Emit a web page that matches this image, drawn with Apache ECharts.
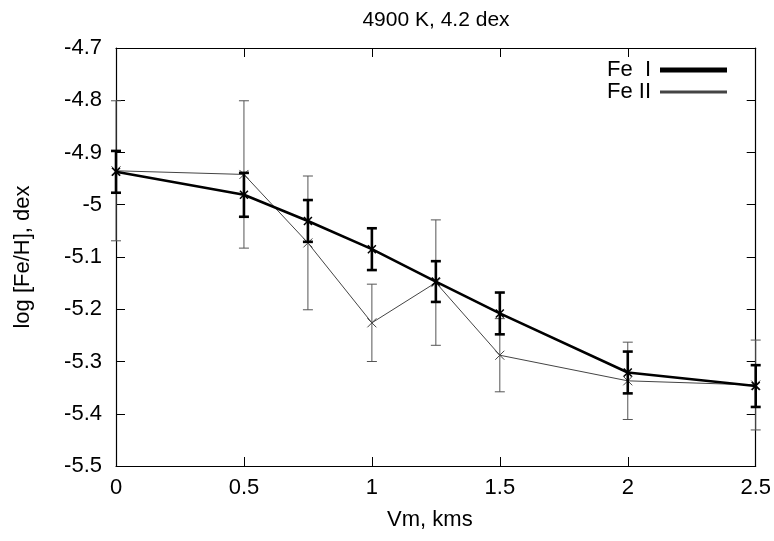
<!DOCTYPE html>
<html>
<head>
<meta charset="utf-8">
<script src="https://cdn.jsdelivr.net/npm/echarts@6/dist/echarts.min.js"></script>
<style>html,body{margin:0;padding:0;background:#fff;}#c{width:774px;height:541px;}</style>
</head>
<body>
<div id="c"></div>
<script>
// ---- data ----
const vm = [0, 0.5, 0.75, 1, 1.25, 1.5, 2, 2.5];
const feI = [-4.937, -4.981, -5.031, -5.085, -5.147, -5.208, -5.321, -5.347];
const feIErr = [0.040, 0.042, 0.040, 0.040, 0.039, 0.040, 0.040, 0.040];
const feII = [-4.935, -4.942, -5.073, -5.226, -5.149, -5.288, -5.337, -5.345];
const feIIErr = [0.134, 0.141, 0.128, 0.074, 0.120, 0.070, 0.074, 0.086];
const seriesNames = ['Fe  I', 'Fe II'];
const xTicks = [0, 0.5, 1, 1.5, 2, 2.5];
const yTicks = [-5.5, -5.4, -5.3, -5.2, -5.1, -5, -4.9, -4.8, -4.7];
const titleText = '4900 K, 4.2 dex';
const xName = 'Vm, kms';
const yName = 'log [Fe/H], dex';

const FONT = '"Liberation Sans", Arial, sans-serif';
const FS = 22;
const pts = (ys) => vm.map((x, i) => [x, ys[i]]);
const errs = (ys, es) => vm.map((x, i) => [x, ys[i] - es[i], ys[i] + es[i]]);

function errRender(width, color) {
  return function (params, api) {
    const x = api.value(0), lo = api.value(1), hi = api.value(2);
    const p1 = api.coord([x, hi]), p2 = api.coord([x, lo]);
    const w = 5;
    const st = { stroke: color, lineWidth: width };
    return {
      type: 'group',
      children: [
        { type: 'line', shape: { x1: p1[0], y1: p1[1], x2: p2[0], y2: p2[1] }, style: st },
        { type: 'line', shape: { x1: p1[0] - w, y1: p1[1], x2: p1[0] + w, y2: p1[1] }, style: st },
        { type: 'line', shape: { x1: p2[0] - w, y1: p2[1], x2: p2[0] + w, y2: p2[1] }, style: st }
      ]
    };
  };
}

const crossSym = 'path://M0,0L10,10M10,0L0,10';
const axisCommon = {
  axisLine: { show: true, onZero: false, lineStyle: { color: '#000', width: 1.2 } },
  axisTick: { show: true, inside: true, length: 9, lineStyle: { color: '#000', width: 1 } },
  splitLine: { show: false }
};

const chart = echarts.init(document.getElementById('c'), null, { renderer: 'canvas' });
chart.setOption({
  animation: false,
  backgroundColor: '#fff',
  title: {
    text: titleText, left: 431, textAlign: 'center', top: 5,
    textStyle: { fontFamily: FONT, fontSize: 21, fontWeight: 'normal', color: '#000' }
  },
  grid: { left: 116, right: 17, top: 48, bottom: 75, containLabel: false },
  legend: {
    orient: 'vertical', right: 47, top: 59, align: 'right', padding: 0,
    itemWidth: 65, itemHeight: 14, itemGap: 0,
    textStyle: { fontFamily: FONT, fontSize: FS, lineHeight: 22, color: '#000', padding: [0, 5, 0, 0] },
    data: [
      { name: seriesNames[0], icon: 'path://M0,0L65,0L65,3L0,3Z', itemStyle: { color: '#000' } },
      { name: seriesNames[1], icon: 'path://M0,0L65,0L65,1L0,1Z', itemStyle: { color: '#444' } }
    ]
  },
  xAxis: [
    Object.assign({
      type: 'value', min: 0, max: 2.5, interval: 0.5, position: 'bottom',
      name: xName, nameLocation: 'middle', nameGap: 43,
      nameTextStyle: { fontFamily: FONT, fontSize: FS, color: '#000', padding: [0, 12, 0, 0] },
      axisLabel: { fontFamily: FONT, fontSize: FS, color: '#000', margin: 11 }
    }, axisCommon),
    Object.assign({
      type: 'value', min: 0, max: 2.5, interval: 0.5, position: 'top',
      axisLabel: { show: false }
    }, axisCommon)
  ],
  yAxis: [
    Object.assign({
      type: 'value', min: -5.5, max: -4.7, interval: 0.1, position: 'left',
      name: yName, nameLocation: 'middle', nameGap: 82, nameRotate: 90,
      nameTextStyle: { fontFamily: FONT, fontSize: FS, color: '#000' },
      axisLabel: { fontFamily: FONT, fontSize: FS, color: '#000', margin: 14,
        formatter: (v) => String(Math.round(v * 10) / 10) }
    }, axisCommon),
    Object.assign({
      type: 'value', min: -5.5, max: -4.7, interval: 0.1, position: 'right',
      axisLabel: { show: false }
    }, axisCommon)
  ],
  series: [
    {
      name: 'FeII err', type: 'custom', renderItem: errRender(1, '#555'),
      data: errs(feII, feIIErr), encode: { x: 0, y: [1, 2] }, z: 1, silent: true
    },
    {
      name: seriesNames[1], type: 'line', data: pts(feII),
      lineStyle: { color: '#444', width: 1 },
      symbol: crossSym, symbolSize: 9,
      itemStyle: { color: '#444', borderColor: '#444', borderWidth: 1 },
      z: 2
    },
    {
      name: 'FeI err', type: 'custom', renderItem: errRender(2.6, '#000'),
      data: errs(feI, feIErr), encode: { x: 0, y: [1, 2] }, z: 3, silent: true
    },
    {
      name: seriesNames[0], type: 'line', data: pts(feI),
      lineStyle: { color: '#000', width: 2.6 },
      symbol: crossSym, symbolSize: 8,
      itemStyle: { color: '#000', borderColor: '#000', borderWidth: 1.5 },
      z: 4
    }
  ]
});
</script>
</body>
</html>
